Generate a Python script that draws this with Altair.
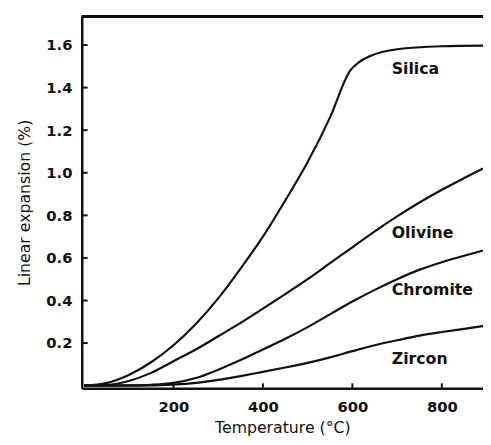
import altair as alt
import pandas as pd

silica_t = [0, 50, 100, 150, 200, 250, 300, 350, 400, 450, 500, 550, 595, 615, 640, 700, 800, 892]
silica_v = [0, 0.012, 0.05, 0.11, 0.19, 0.29, 0.41, 0.55, 0.70, 0.87, 1.05, 1.26, 1.48, 1.52, 1.548, 1.58, 1.594, 1.597]

olivine_t = [0, 50, 100, 150, 200, 250, 300, 350, 400, 450, 500, 550, 600, 650, 700, 750, 800, 850, 892]
olivine_v = [0, 0.003, 0.022, 0.06, 0.115, 0.17, 0.232, 0.295, 0.362, 0.43, 0.50, 0.575, 0.65, 0.725, 0.795, 0.86, 0.92, 0.975, 1.02]

chromite_t = [0, 100, 150, 200, 250, 300, 350, 400, 450, 500, 550, 600, 650, 700, 750, 800, 850, 892]
chromite_v = [0, 0.001, 0.004, 0.013, 0.036, 0.075, 0.12, 0.17, 0.22, 0.275, 0.335, 0.395, 0.45, 0.50, 0.545, 0.58, 0.61, 0.635]

zircon_t = [0, 150, 200, 250, 300, 350, 400, 450, 500, 550, 600, 650, 700, 750, 800, 850, 892]
zircon_v = [0, 0.001, 0.005, 0.013, 0.027, 0.045, 0.065, 0.085, 0.107, 0.133, 0.162, 0.19, 0.213, 0.235, 0.252, 0.267, 0.28]

label_names = ["Silica", "Olivine", "Chromite", "Zircon"]
label_t = [688, 688, 688, 688]
label_v = [1.485, 0.715, 0.45, 0.125]

x_ticks = [200, 400, 600, 800]
y_ticks = [0.2, 0.4, 0.6, 0.8, 1.0, 1.2, 1.4, 1.6]

rows = []
for name, ts, vs in [("Silica", silica_t, silica_v), ("Olivine", olivine_t, olivine_v),
                     ("Chromite", chromite_t, chromite_v), ("Zircon", zircon_t, zircon_v)]:
    for t, v in zip(ts, vs):
        rows.append({"mineral": name, "t": t, "v": v})
curves = pd.DataFrame(rows)
labels = pd.DataFrame({"name": label_names, "t": label_t, "v": label_v})
xt = pd.DataFrame({"t": x_ticks})
yt = pd.DataFrame({"v": y_ticks})

W, H = 408, 378
xs = alt.Scale(domain=[-5, 892], nice=False, zero=False)
ys = alt.Scale(domain=[-0.012, 1.734], nice=False, zero=False)

FONT = "DejaVu Sans"
INK = "#111"

xaxis = alt.Axis(values=x_ticks, ticks=False, labelPadding=12, labelFont=FONT, labelFontSize=15,
                 labelFontWeight="bold", labelColor=INK, domainColor=INK, domainWidth=2.5,
                 grid=False, title="Temperature (°C)", titleFont=FONT, titleFontSize=16,
                 titleFontWeight="normal", titleColor=INK, titlePadding=5, format="d")
yaxis = alt.Axis(values=y_ticks, ticks=False, labelPadding=10, labelFont=FONT, labelFontSize=15,
                 labelFontWeight="bold", labelColor=INK, domainColor=INK, domainWidth=2.5,
                 grid=False, title="Linear expansion (%)", titleFont=FONT, titleFontSize=16,
                 titleFontWeight="normal", titleColor=INK, titlePadding=14, format=".1f")

lines = alt.Chart(curves).mark_line(color=INK, strokeWidth=2.2, interpolate="monotone").encode(
    x=alt.X("t:Q", scale=xs, axis=xaxis),
    y=alt.Y("v:Q", scale=ys, axis=yaxis),
    detail="mineral:N",
)

text = alt.Chart(labels).mark_text(align="left", baseline="middle", font=FONT, fontSize=16,
                                   fontWeight="bold", color=INK).encode(
    x=alt.X("t:Q", scale=xs), y=alt.Y("v:Q", scale=ys), text="name:N")

xtick = alt.Chart(xt).mark_rule(color=INK, strokeWidth=2).encode(
    x=alt.X("t:Q", scale=xs), y=alt.value(H), y2=alt.value(H - 5))
ytick = alt.Chart(yt).mark_rule(color=INK, strokeWidth=2).encode(
    y=alt.Y("v:Q", scale=ys), x=alt.value(0), x2=alt.value(6))
top = alt.Chart(labels).mark_rule(color=INK, strokeWidth=2.5).encode(
    y=alt.value(0), x=alt.value(0), x2=alt.value(W))

chart = alt.layer(lines, text, xtick, ytick, top).properties(
    width=W, height=H,
    autosize=alt.AutoSizeParams(type="none"),
    padding={"left": 75, "top": 5, "right": 0, "bottom": 46},
).configure_view(stroke=None).configure(background="white")

chart.save("out.html", embed_options={"renderer": "svg", "actions": False})
